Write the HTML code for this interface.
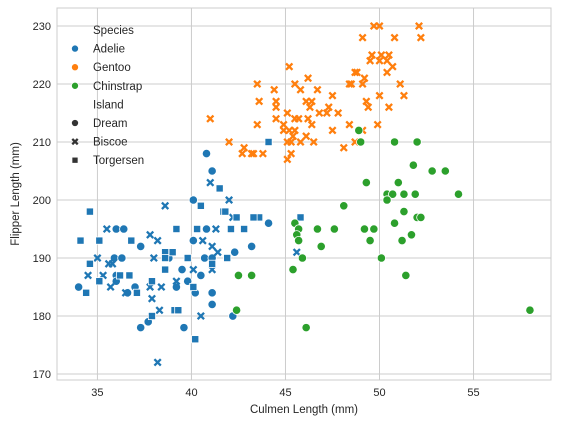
<!DOCTYPE html>
<html><head><meta charset="utf-8"><style>
body{margin:0;background:#fff;font-family:"Liberation Sans",sans-serif}
svg text{font-family:"Liberation Sans",sans-serif;fill:#262626}
</style></head><body>
<svg id="c" width="562" height="424">
<rect x="57" y="8" width="494" height="372" fill="#fff"/>
<g id="grid"></g><g id="pts"></g>
<rect x="57" y="8" width="494" height="372" fill="none" stroke="#ccc" stroke-width="1"/>
<g id="ticks"></g>
<text x="304" y="413" text-anchor="middle" font-size="11.5">Culmen Length (mm)</text>
<text transform="translate(19,194) rotate(-90)" text-anchor="middle" font-size="11.5">Flipper Length (mm)</text>
<g id="legend"></g>
</svg>
<script>
const xTicks=[35,40,45,50,55];
const yTicks=[170,180,190,200,210,220,230];
// Adelie
const adDreamX=[40.8,41.1,40.1,36.0,36.4,40.8,40.1,37.3,43.2,42.3,35.9,36.3,38.8,40.7,41.1,39.5,40.5,36.0,36.0,34.0,37.0,39.2,39.8,36.6,40.2,41.1,41.1,37.7,37.3,39.6,42.2,44.1];
const adDreamY=[208,205,200,195,195,195,193,192,192,191,190,190,190,190,190,188,187,187,186,185,185,185,186,184,184,184,182,179,178,178,180,196];
const adBiscoeX=[41.0,42.0,38.6,42.2,35.5,41.3,37.8,38.2,40.6,41.1,41.4,35.0,38.0,35.8,35.6,40.1,41.1,34.5,35.3,35.7,37.8,38.4,39.2,36.5,37.9,38.3,40.5,38.2,45.6];
const adBiscoeY=[203,200,199,197,195,195,194,193,193,192,191,190,190,189,189,188,188,187,187,185,185,185,186,184,183,181,180,172,191];
const adTorgX=[41.5,34.6,40.5,41.7,42.4,43.6,39.2,40.3,42.1,42.8,34.1,35.1,36.8,38.6,39.0,38.6,39.8,41.9,41.1,34.6,38.6,36.2,36.7,35.1,37.9,34.4,37.1,40.1,39.1,39.3,37.9,40.2,44.1,41.8,43.3,45.8];
const adTorgY=[202,198,199,198,197,197,195,195,195,195,193,193,193,191,191,190,190,190,189,189,188,187,187,186,186,184,184,185,181,181,180,176,210,198,197,197];
// Gentoo (Biscoe)
const gentooX=[49.7,50.0,52.1,49.1,50.8,52.2,49.6,50.1,50.5,49.5,50.0,50.4,50.7,48.7,48.8,50.4,49.2,48.4,48.5,49.1,51.1,45.2,46.2,43.5,45.5,44.4,45.8,46.7,47.5,50.0,51.3,43.6,44.5,46.1,46.4,49.3,44.5,46.3,47.3,49.4,50.5,45.1,46.8,47.2,47.8,41.0,44.5,45.5,45.7,46.2,43.5,44.9,46.4,48.4,49.9,44.9,45.2,45.5,47.5,49.1,45.4,46.1,42.0,45.1,45.3,45.8,46.5,48.7,42.8,48.1,42.7,43.2,43.3,43.8,45.3,45.1];
const gentooY=[230,230,230,228,228,228,225,225,225,224,224,224,223,222,222,222,221,220,220,220,220,223,221,220,220,219,219,219,218,218,218,217,217,217,217,217,216,216,216,216,216,215,215,215,215,214,214,214,214,214,213,213,213,213,213,212,212,212,212,212,211,211,210,210,210,210,210,210,209,209,208,208,208,208,208,207];
// Chinstrap (Dream)
const chinX=[49.0,50.8,52.0,51.8,52.8,53.5,49.3,51.0,50.4,50.7,51.3,51.9,54.2,50.4,48.1,51.3,52.0,52.2,45.5,50.8,45.7,46.7,47.6,49.2,49.7,45.6,51.7,45.7,49.5,51.2,46.9,45.9,50.1,45.4,42.5,43.2,51.4,42.4,58.0,46.1,48.9];
const chinY=[210,210,210,206,205,205,203,203,201,201,201,201,201,200,199,198,197,197,196,196,195,195,195,195,195,194,194,193,193,193,192,190,190,188,187,187,187,181,181,178,212];

const X0=32.85,X1=59.12,Y0=168.97,Y1=233.1,L=57,R=551,T=8,B=380;
const sx=v=>L+(v-X0)/(X1-X0)*(R-L);
const sy=v=>B-(v-Y0)/(Y1-Y0)*(B-T);
const NS='http://www.w3.org/2000/svg';
function mk(t,a,p){const e=document.createElementNS(NS,t);for(const k in a)e.setAttribute(k,a[k]);p.appendChild(e);return e;}
const grid=document.getElementById('grid'),ticks=document.getElementById('ticks'),pts=document.getElementById('pts'),leg=document.getElementById('legend');
xTicks.forEach(v=>{
 const g=mk('line',{x1:sx(v),x2:sx(v),y1:T,y2:B,stroke:'#ccc','stroke-width':1},grid);
 
 
 const t=mk('text',{x:sx(v),y:B+16,'text-anchor':'middle','font-size':11},ticks);t.textContent=v;
 
 
});
yTicks.forEach(v=>{
 const g=mk('line',{x1:L,x2:R,y1:sy(v),y2:sy(v),stroke:'#ccc','stroke-width':1},grid);
 
 
 const t=mk('text',{x:L-6,y:sy(v)+4,'text-anchor':'end','font-size':11},ticks);t.textContent=v;
 
 
});
function marker(shape,cx,cy,col,p,s){
 s=s||1;let e;
 if(shape==='o'){e=mk('circle',{cx:cx,cy:cy,r:4.2*s,fill:col,stroke:'#fff','stroke-width':0.8},p);}
 else if(shape==='x'){const d=3.2*s;e=mk('path',{d:`M${cx-d},${cy-d}L${cx+d},${cy+d}M${cx-d},${cy+d}L${cx+d},${cy-d}`,stroke:col,'stroke-width':2.3,'stroke-linecap':'butt',fill:'none'},p);}
 else {const d=3.6*s;e=mk('rect',{x:cx-d,y:cy-d,width:2*d,height:2*d,fill:col,stroke:'#fff','stroke-width':0.8},p);}
 return e;
}
function series(xs,ys,shape,col,name){
 xs.forEach((v,i)=>{const e=marker(shape,sx(v),sy(ys[i]),col,pts);
  
  });
}
series(adDreamX,adDreamY,'o','#1f77b4','adelie-dream-point');
series(adBiscoeX,adBiscoeY,'x','#1f77b4','adelie-biscoe-point');
series(adTorgX,adTorgY,'s','#1f77b4','adelie-torgersen-point');
series(gentooX,gentooY,'x','#ff7f0e','gentoo-biscoe-point');
series(chinX,chinY,'o','#2ca02c','chinstrap-dream-point');
// legend
const items=[['Species',null,null],['Adelie','o','#1f77b4'],['Gentoo','o','#ff7f0e'],['Chinstrap','o','#2ca02c'],['Island',null,null],['Dream','o','#333'],['Biscoe','x','#333'],['Torgersen','s','#333']];
items.forEach((it,i)=>{
 const y=30+i*18.6;
 const t=mk('text',{x:93,y:y+4,'font-size':11.5},leg);t.textContent=it[0];
 
 
 if(it[1]){const m=marker(it[1],75,y,it[2],leg,0.85);
  
  }
});
</script>
</body></html>
